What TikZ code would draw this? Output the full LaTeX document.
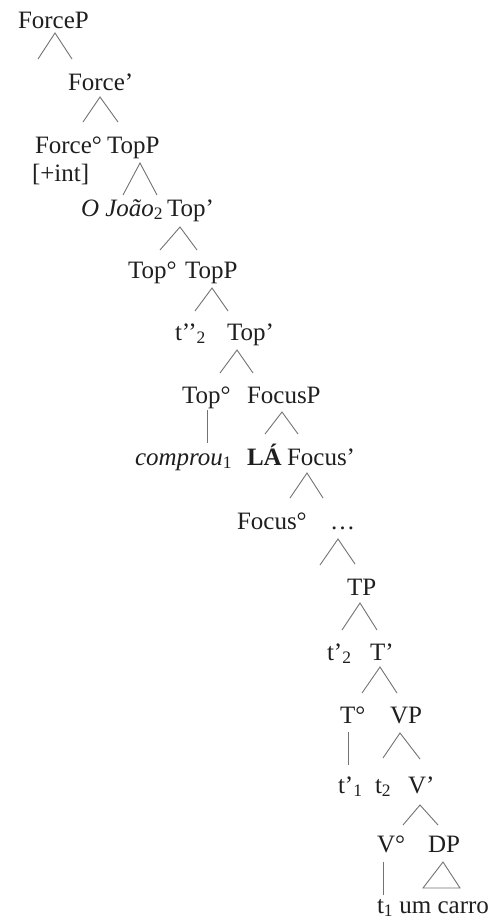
\documentclass[tikz,border=0pt]{standalone}
\usepackage{fontspec}
\setmainfont{Liberation Serif}
\begin{document}
\begin{tikzpicture}[x=1pt,y=-1pt,
  lab/.style={anchor=base west,inner sep=0pt,outer sep=0pt,text=black!88,font=\fontsize{25}{30}\selectfont},
  br/.style={draw=black!55,line width=0.9pt}]
\useasboundingbox[fill=white] (0,0) rectangle (493,924);
% labels
\node[lab] (ForceP) at (18,28) {ForceP};
\node[lab] (Forcebar) at (68,90) {Force’};
\node[lab] (Force0) at (35,153) {Force°};
\node[lab] (TopPa) at (107,153) {TopP};
\node[lab] (int) at (32,181) {[+int]};
\node[lab] (Joao) at (81,216) {\itshape O João\textsubscript{\upshape 2}};
\node[lab] (Topbara) at (167,216) {Top’};
\node[lab] (Top0a) at (128,278) {Top°};
\node[lab] (TopPb) at (185,278) {TopP};
\node[lab] (tpp) at (175,340) {t’’\textsubscript{2}};
\node[lab] (Topbarb) at (227,340) {Top’};
\node[lab] (Top0b) at (182,403) {Top°};
\node[lab] (FocusP) at (247,403) {FocusP};
\node[lab] (comprou) at (135,465) {\itshape comprou\textsubscript{\upshape 1}};
\node[lab] (LA) at (247,465) {\bfseries LÁ};
\node[lab] (Focusbar) at (287,465) {Focus’};
\node[lab] (Focus0) at (237,529) {Focus°};
\node[lab] (dots) at (330,529) {…};
\node[lab] (TP) at (347,595) {TP};
\node[lab] (tp2) at (327,660) {t’\textsubscript{2}};
\node[lab] (Tbar) at (370,660) {T’};
\node[lab] (T0) at (340,723) {T°};
\node[lab] (VP) at (390,723) {VP};
\node[lab] (tp1) at (338,793) {t’\textsubscript{1}};
\node[lab] (t2) at (375,793) {t\textsubscript{2}};
\node[lab] (Vbar) at (408,793) {V’};
\node[lab] (V0) at (377,852) {V°};
\node[lab] (DP) at (428,852) {DP};
\node[lab] (t1) at (377,913) {t\textsubscript{1} um carro};
% branch points
\coordinate (a1) at (55,33);   \coordinate (l1) at (38,59);   \coordinate (r1) at (72,59);
\coordinate (a2) at (100,97);  \coordinate (l2) at (83,122);  \coordinate (r2) at (118,122);
\coordinate (a3) at (140,163); \coordinate (l3) at (123,195); \coordinate (r3) at (157,195);
\coordinate (a4) at (180,227); \coordinate (l4) at (160,250); \coordinate (r4) at (197,250);
\coordinate (a5) at (212,288); \coordinate (l5) at (195,311); \coordinate (r5) at (228,311);
\coordinate (a6) at (237,350); \coordinate (l6) at (220,373); \coordinate (r6) at (253,373);
\coordinate (a7) at (282,412); \coordinate (l7) at (265,434); \coordinate (r7) at (298,434);
\coordinate (a8) at (307,473); \coordinate (l8) at (290,498); \coordinate (r8) at (323,498);
\coordinate (a9) at (338,539); \coordinate (l9) at (320,565); \coordinate (r9) at (355,564);
\coordinate (a10) at (360,603); \coordinate (l10) at (342,630); \coordinate (r10) at (377,630);
\coordinate (a11) at (380,667); \coordinate (l11) at (362,693); \coordinate (r11) at (397,693);
\coordinate (a12) at (400,733); \coordinate (l12) at (383,758); \coordinate (r12) at (420,759);
\coordinate (a13) at (420,805); \coordinate (l13) at (403,825); \coordinate (r13) at (438,825);
\foreach \i in {1,...,13}{\draw[br] (l\i) -- (a\i) -- (r\i);}
% unary lines
\coordinate (u1a) at (207,410); \coordinate (u1b) at (207,443);
\coordinate (u2a) at (348,732); \coordinate (u2b) at (348,765);
\coordinate (u3a) at (383,862); \coordinate (u3b) at (383,895);
\draw[br] (u1a) -- (u1b);
\draw[br] (u2a) -- (u2b);
\draw[br] (u3a) -- (u3b);
% DP triangle
\coordinate (da) at (443,862); \coordinate (dl) at (423,888); \coordinate (dr) at (460,888);
\draw[br] (da) -- (dl) -- (dr) -- cycle;
\end{tikzpicture}
\end{document}
